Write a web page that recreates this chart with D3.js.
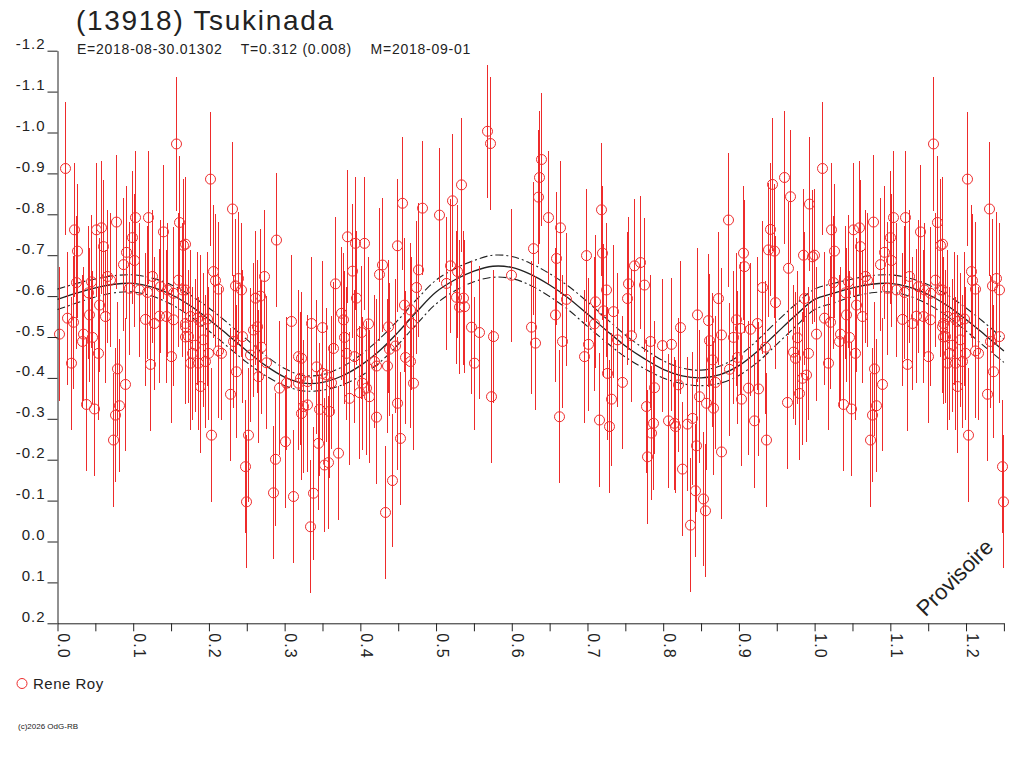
<!DOCTYPE html>
<html><head><meta charset="utf-8">
<script src="https://cdn.jsdelivr.net/npm/d3@7"></script>
<style>
html,body{margin:0;padding:0;background:#fff;}
svg{display:block;font-family:"Liberation Sans",Arial,sans-serif;}
</style></head>
<body>
<svg id="chart" width="1024" height="768"></svg>
<script>
// ---------- data ----------
const titleText = "(13918) Tsukinada";
const subtitleText = "E=2018-08-30.01302    T=0.312 (0.008)    M=2018-09-01";
const observer = "Rene Roy";
const copyrightText = "(c)2026 OdG-RB";
const stampText = "Provisoire";

const xTickValues = [0,0.05,0.1,0.15,0.2,0.25,0.3,0.35,0.4,0.45,0.5,0.55,0.6,0.65,0.7,0.75,0.8,0.85,0.9,0.95,1.0,1.05,1.1,1.15,1.2,1.25];
const xTickLabels = {"0":"0.0","0.1":"0.1","0.2":"0.2","0.3":"0.3","0.4":"0.4","0.5":"0.5","0.6":"0.6","0.7":"0.7","0.8":"0.8","0.9":"0.9","1":"1.0","1.1":"1.1","1.2":"1.2"};
const yTickValues = [-1.2,-1.1,-1.0,-0.9,-0.8,-0.7,-0.6,-0.5,-0.4,-0.3,-0.2,-0.1,0.0,0.1,0.2];
const yTickLabels = ["-1.2","-1.1","-1.0","-0.9","-0.8","-0.7","-0.6","-0.5","-0.4","-0.3","-0.2","-0.1","0.0","0.1","0.2"];

// observed points: rotational phase and relative magnitude
const phase = [
0.002,0.010,0.022,0.026,0.024,0.012,0.020,0.018,0.034,0.032,0.042,0.046,0.053,0.037,0.048,0.073,0.076,0.081,0.079,0.089,
0.051,0.058,0.060,0.077,0.103,0.120,0.099,0.091,0.087,0.101,0.066,0.069,0.044,0.040,0.055,0.063,0.095,0.108,0.118,0.125,
0.115,0.128,0.122,0.139,0.161,0.166,0.136,0.145,0.152,0.159,0.165,0.134,0.143,0.152,0.150,0.169,0.156,0.169,
0.201,0.230,0.289,0.168,0.206,0.208,0.212,0.239,0.234,0.243,0.273,0.261,0.268,0.309,0.335,0.168,0.197,0.175,0.184,0.188,0.168,
0.172,0.181,0.192,0.199,0.177,0.186,0.195,0.175,0.212,0.216,0.232,0.244,0.263,0.258,0.269,0.254,0.236,0.276,0.265,0.188,
0.228,0.293,0.302,0.318,0.322,0.320,0.318,0.329,0.324,0.329,0.322,0.203,0.251,0.247,0.249,0.287,0.285,0.300,0.311,0.333,0.337,
0.455,0.482,0.504,0.383,0.393,0.405,0.449,0.429,0.424,0.389,0.476,0.367,0.474,0.394,0.374,0.377,0.349,0.401,0.410,0.379,
0.436,0.458,0.465,0.467,0.364,0.341,0.381,0.392,0.418,0.421,0.435,0.438,0.446,0.361,0.350,0.355,0.459,0.465,0.402,0.407,
0.398,0.412,0.385,0.469,0.346,0.359,0.421,0.448,0.452,0.344,0.371,0.352,0.357,0.442,0.432,
0.567,0.571,0.533,0.521,0.638,0.636,0.634,0.648,0.664,0.628,0.659,0.518,0.528,0.513,0.599,0.526,0.535,0.537,0.530,0.671,
0.546,0.557,0.575,0.657,0.626,0.631,0.667,0.550,0.573,0.662,
0.718,0.698,0.719,0.770,0.761,0.754,0.775,0.725,0.752,0.710,0.721,0.734,0.708,0.757,0.739,0.782,0.701,0.799,0.810,0.822,
0.845,0.696,0.726,0.745,0.788,0.820,0.731,0.777,0.715,0.729,0.787,0.784,0.807,0.814,0.816,0.831,0.838,0.779,0.843,0.825,
0.842,0.835,0.847,
0.960,0.944,0.967,0.993,0.886,0.941,0.938,0.946,0.905,0.907,0.965,0.984,0.996,0.999,0.930,0.873,0.948,0.986,0.859,0.896,
0.901,0.914,0.924,0.877,0.861,0.892,0.977,0.934,0.972,0.974,0.991,0.864,0.897,0.887,0.868,0.983,0.989,0.912,0.925,0.857,
0.866,0.903,0.979,0.963,0.920,0.936,0.876,0.852,0.855
];
const mag = [
-0.507,-0.912,-0.762,-0.710,-0.633,-0.546,-0.536,-0.436,-0.507,-0.489,-0.554,-0.499,-0.460,-0.335,-0.324,-0.248,-0.309,-0.332,-0.422,-0.384,
-0.762,-0.767,-0.721,-0.781,-0.792,-0.792,-0.743,-0.707,-0.677,-0.687,-0.648,-0.639,-0.635,-0.608,-0.578,-0.550,-0.619,-0.615,-0.609,-0.648,
-0.543,-0.533,-0.433,-0.757,-0.780,-0.724,-0.623,-0.615,-0.607,-0.639,-0.615,-0.551,-0.550,-0.542,-0.452,-0.533,-0.972,-0.500,
-0.886,-0.813,-0.737,-0.727,-0.660,-0.638,-0.617,-0.643,-0.625,-0.615,-0.648,-0.595,-0.600,-0.538,-0.533,-0.615,-0.544,-0.550,-0.546,-0.538,-0.525,
-0.501,-0.480,-0.493,-0.460,-0.460,-0.436,-0.440,-0.436,-0.466,-0.460,-0.489,-0.501,-0.525,-0.517,-0.475,-0.456,-0.415,-0.437,-0.403,-0.379,
-0.360,-0.375,-0.387,-0.452,-0.448,-0.399,-0.387,-0.391,-0.330,-0.334,-0.313,-0.260,-0.260,-0.183,-0.097,-0.201,-0.119,-0.244,-0.110,-0.036,-0.118,
-0.827,-0.815,-0.798,-0.745,-0.729,-0.729,-0.723,-0.676,-0.653,-0.661,-0.664,-0.630,-0.621,-0.595,-0.558,-0.542,-0.523,-0.511,-0.532,-0.499,
-0.525,-0.578,-0.566,-0.533,-0.472,-0.427,-0.460,-0.452,-0.440,-0.429,-0.429,-0.470,-0.478,-0.388,-0.411,-0.407,-0.450,-0.440,-0.387,-0.375,
-0.364,-0.354,-0.350,-0.387,-0.323,-0.318,-0.304,-0.338,-0.252,-0.240,-0.216,-0.187,-0.193,-0.149,-0.071,
-1.003,-0.973,-0.872,-0.833,-0.934,-0.890,-0.842,-0.792,-0.767,-0.716,-0.692,-0.674,-0.660,-0.631,-0.651,-0.597,-0.595,-0.574,-0.573,-0.592,
-0.524,-0.511,-0.501,-0.554,-0.524,-0.485,-0.489,-0.436,-0.354,-0.305,
-0.811,-0.699,-0.705,-0.682,-0.674,-0.630,-0.627,-0.615,-0.594,-0.586,-0.564,-0.562,-0.532,-0.503,-0.493,-0.489,-0.482,-0.479,-0.482,-0.523,
-0.554,-0.452,-0.411,-0.389,-0.376,-0.383,-0.348,-0.330,-0.297,-0.281,-0.289,-0.265,-0.295,-0.289,-0.281,-0.287,-0.301,-0.207,-0.234,-0.177,
-0.124,-0.040,-0.354,
-0.890,-0.873,-0.843,-0.825,-0.786,-0.763,-0.713,-0.710,-0.705,-0.672,-0.668,-0.700,-0.696,-0.700,-0.621,-0.594,-0.584,-0.594,-0.540,-0.542,
-0.521,-0.519,-0.533,-0.505,-0.491,-0.499,-0.498,-0.475,-0.463,-0.448,-0.460,-0.444,-0.450,-0.421,-0.389,-0.399,-0.407,-0.375,-0.373,-0.338,
-0.326,-0.348,-0.362,-0.340,-0.295,-0.248,-0.219,-0.104,-0.075
];
const magError = 0.163;   // half-length of every error bar (mag)

// fitted light curve (phase 0..1) and its uncertainty envelope
const fitPhase = [0,0.025,0.05,0.075,0.1,0.125,0.15,0.175,0.2,0.225,0.25,0.275,0.3,0.325,0.35,0.375,0.4,0.425,0.45,0.475,0.5,
  0.525,0.55,0.575,0.6,0.625,0.65,0.675,0.7,0.725,0.75,0.775,0.8,0.825,0.85,0.875,0.9,0.925,0.95,0.975,1.0];
const fitMag = [-0.592,-0.607,-0.620,-0.629,-0.631,-0.622,-0.604,-0.577,-0.543,-0.505,-0.466,-0.430,-0.402,-0.387,-0.389,-0.404,-0.430,-0.466,-0.512,-0.563,-0.610,
  -0.640,-0.661,-0.673,-0.670,-0.653,-0.627,-0.595,-0.556,-0.516,-0.478,-0.447,-0.421,-0.405,-0.400,-0.408,-0.430,-0.466,-0.510,-0.553,-0.592];
const fitSpread = [0.025,0.024,0.022,0.021,0.021,0.022,0.024,0.026,0.028,0.029,0.028,0.025,0.021,0.019,0.019,0.022,0.026,0.029,0.030,0.030,0.029,
  0.027,0.026,0.027,0.027,0.027,0.028,0.029,0.030,0.029,0.027,0.024,0.021,0.019,0.019,0.021,0.024,0.027,0.028,0.027,0.025];

// ---------- drawing ----------
const RED = "#ee2b2b", INK = "#222";
const svg = d3.select("#chart");
const x = d3.scaleLinear().domain([0, 1.25]).range([57.5, 1003.9]);
const y = d3.scaleLinear().domain([-1.2, 0.2]).range([50.7, 623.3]);
const maxPhase = 1.25;

// fitted curves, repeated beyond phase 1
function extend(vals) {
  const pts = fitPhase.map((p, i) => [p, vals[i]]);
  fitPhase.forEach((p, i) => { if (p > 0 && p + 1 <= maxPhase + 1e-9) pts.push([p + 1, vals[i]]); });
  return pts;
}
const line = d3.line().x(d => x(d[0])).y(d => y(d[1])).curve(d3.curveCatmullRom);
const gFit = svg.append("g").attr("fill", "none").attr("stroke", INK);
gFit.append("path").attr("d", line(extend(fitMag))).attr("stroke-width", 1.3);
gFit.append("path").attr("d", line(extend(fitMag.map((m, i) => m - fitSpread[i]))))
  .attr("stroke-width", 1.1).attr("stroke-dasharray", "8,3,2,3");
gFit.append("path").attr("d", line(extend(fitMag.map((m, i) => m + fitSpread[i]))))
  .attr("stroke-width", 1.1).attr("stroke-dasharray", "8,3,2,3");

// data points (with phases < 0.25 shown again after phase 1)
const pts = phase.map((p, i) => ({p, m: mag[i]}));
phase.forEach((p, i) => { if (p + 1 <= maxPhase) pts.push({p: p + 1, m: mag[i]}); });

const gData = svg.append("g");
gData.selectAll("line.err").data(pts).join("line")
  .attr("class", "err")
  .attr("x1", d => Math.round(x(d.p)) + 0.5).attr("x2", d => Math.round(x(d.p)) + 0.5)
  .attr("y1", d => y(d.m - magError)).attr("y2", d => y(d.m + magError))
  .attr("stroke", RED).attr("stroke-width", 1).attr("shape-rendering", "crispEdges");
gData.selectAll("circle").data(pts).join("circle")
  .attr("cx", d => Math.round(x(d.p)) + 0.5).attr("cy", d => y(d.m)).attr("r", 5)
  .attr("fill", "none").attr("stroke", RED).attr("stroke-width", 1);

// axes
const yAxis = svg.append("g").attr("transform", "translate(57.5,0)")
  .call(d3.axisLeft(y).tickValues(yTickValues).tickSize(10).tickSizeOuter(0)
    .tickFormat((d, i) => yTickLabels[i]));
yAxis.select(".domain").attr("stroke", INK);
yAxis.selectAll(".tick line").attr("stroke", INK);
yAxis.selectAll(".tick text").attr("x", -12).attr("dy", "-2px").attr("y", 0)
  .attr("fill", INK).style("font-size", "15px").style("letter-spacing", "1px")
  .style("font-family", "'Liberation Sans',Arial,sans-serif");

const xAxis = svg.append("g").attr("transform", "translate(0,623.3)")
  .call(d3.axisBottom(x).tickValues(xTickValues).tickSize(8).tickSizeOuter(0)
    .tickFormat(d => xTickLabels[String(+d.toFixed(2))] || ""));
xAxis.select(".domain").attr("stroke", INK);
xAxis.selectAll(".tick line").attr("stroke", INK);
xAxis.selectAll(".tick text")
  .attr("y", 0).attr("dy", 0)
  .attr("transform", "translate(0,10) rotate(90)")
  .attr("text-anchor", "start")
  .attr("fill", INK).style("font-size", "16px").style("letter-spacing", "1px")
  .style("font-family", "'Liberation Sans',Arial,sans-serif");

// titles
svg.append("text").attr("x", 76).attr("y", 30).text(titleText)
  .attr("fill", INK).style("font-size", "28px").style("letter-spacing", "1.7px");
svg.append("text").attr("x", 77).attr("y", 54).text(subtitleText)
  .attr("fill", INK).style("font-size", "14px").style("white-space", "pre")
  .style("letter-spacing", "0.75px");

// legend
svg.append("circle").attr("cx", 22).attr("cy", 683.5).attr("r", 5)
  .attr("fill", "none").attr("stroke", RED);
svg.append("text").attr("x", 33).attr("y", 689).text(observer)
  .attr("fill", INK).style("font-size", "15px").style("letter-spacing", "0.5px");

// copyright
svg.append("text").attr("x", 18).attr("y", 729).text(copyrightText)
  .attr("fill", INK).style("font-size", "8px");

// provisional stamp
svg.append("text").attr("transform", "translate(960,583) rotate(-45)")
  .attr("text-anchor", "middle").text(stampText)
  .attr("fill", INK).style("font-size", "22px");
</script>
</body></html>
